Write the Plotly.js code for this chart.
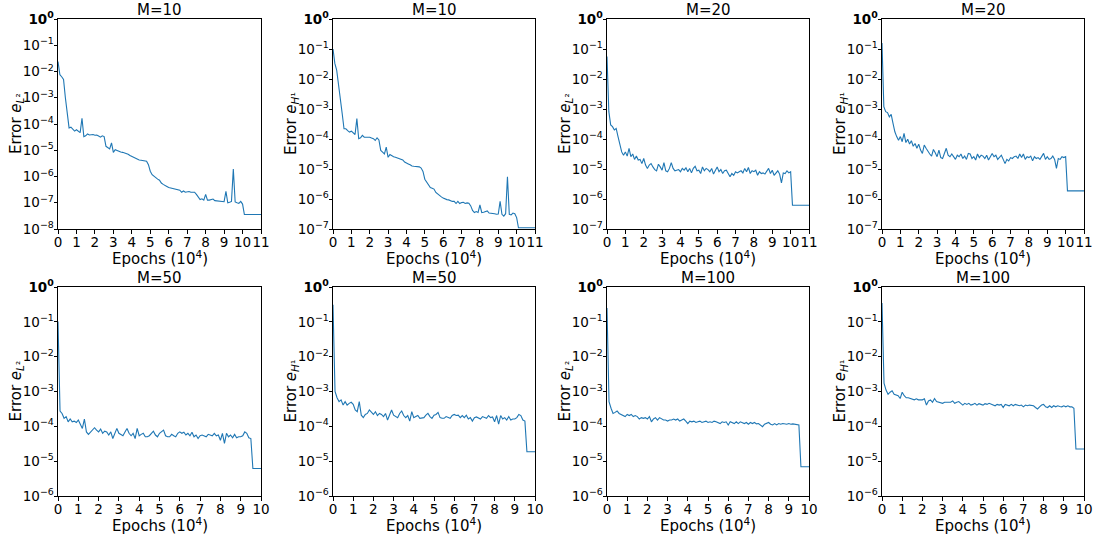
<!DOCTYPE html>
<html><head><meta charset="utf-8">
<script src="https://cdn.plot.ly/plotly-3.0.1.min.js"></script>
<style>html,body{margin:0;padding:0;background:#fff}#chart{width:1093px;height:535px}</style>
</head><body><div id="chart"></div>
<script>
// Epochs in units of 10^4
const epochsTop = [0,0.1,0.2,0.3,0.4,0.5,0.6,0.7,0.8,0.9,1,1.1,1.2,1.3,1.4,1.5,1.6,1.7,1.8,1.9,2,2.1,2.2,2.3,2.4,2.5,2.6,2.7,2.8,2.9,3,3.1,3.2,3.3,3.4,3.5,3.6,3.7,3.8,3.9,4,4.1,4.2,4.3,4.4,4.5,4.6,4.7,4.8,4.9,5,5.1,5.2,5.3,5.4,5.5,5.6,5.7,5.8,5.9,6,6.1,6.2,6.3,6.4,6.5,6.6,6.7,6.8,6.9,7,7.1,7.2,7.3,7.4,7.5,7.6,7.7,7.8,7.9,8,8.1,8.2,8.3,8.4,8.5,8.6,8.7,8.8,8.9,9,9.1,9.2,9.3,9.4,9.5,9.6,9.7,9.8,9.9,10,10.1,11];
const epochsBottom = [0,0.1,0.2,0.3,0.4,0.5,0.6,0.7,0.8,0.9,1,1.1,1.2,1.3,1.4,1.5,1.6,1.7,1.8,1.9,2,2.1,2.2,2.3,2.4,2.5,2.6,2.7,2.8,2.9,3,3.1,3.2,3.3,3.4,3.5,3.6,3.7,3.8,3.9,4,4.1,4.2,4.3,4.4,4.5,4.6,4.7,4.8,4.9,5,5.1,5.2,5.3,5.4,5.5,5.6,5.7,5.8,5.9,6,6.1,6.2,6.3,6.4,6.5,6.6,6.7,6.8,6.9,7,7.1,7.2,7.3,7.4,7.5,7.6,7.7,7.8,7.9,8,8.1,8.2,8.3,8.4,8.5,8.6,8.7,8.8,8.9,9,9.1,9.2,9.3,9.4,9.5,9.6,10];

// log10 of the error
const m10L2 = [-1.62,-2.12,-2.2,-2.3,-3.0,-3.6,-4.15,-4.12,-4.2,-4.27,
 -4.22,-4.27,-4.33,-3.78,-4.48,-4.45,-4.38,-4.42,-4.42,-4.40,
 -4.43,-4.42,-4.46,-4.5,-4.45,-4.48,-4.85,-4.9,-4.95,-4.72,
 -5.08,-4.98,-5.02,-5.05,-5.07,-5.08,-5.1,-5.12,-5.15,-5.2,
 -5.24,-5.27,-5.3,-5.34,-5.37,-5.38,-5.39,-5.4,-5.42,-5.55,
 -5.8,-5.93,-6.0,-6.07,-6.1,-6.14,-6.25,-6.3,-6.33,-6.38,
 -6.42,-6.44,-6.46,-6.47,-6.5,-6.52,-6.52,-6.6,-6.55,-6.6,
 -6.58,-6.57,-6.6,-6.59,-6.6,-6.68,-6.8,-6.88,-6.85,-6.9,
 -6.68,-6.9,-6.9,-6.88,-6.86,-6.92,-6.93,-6.94,-6.95,-6.97,
 -6.96,-6.57,-7.0,-6.98,-6.95,-5.72,-6.97,-7.0,-7.02,-6.95,
 -7.05,-7.45,-7.45];
const m10H1 = [-1.0,-1.48,-1.7,-2.26,-2.7,-3.15,-3.66,-3.66,-3.72,-3.77,
 -3.74,-3.79,-3.85,-3.32,-3.99,-3.96,-3.88,-3.94,-3.94,-3.96,
 -3.94,-3.97,-3.99,-4.05,-3.96,-4.03,-4.38,-4.44,-4.5,-4.27,
 -4.61,-4.52,-4.56,-4.59,-4.61,-4.63,-4.65,-4.68,-4.7,-4.77,
 -4.81,-4.83,-4.86,-4.9,-4.91,-4.92,-4.92,-4.93,-4.97,-5.08,
 -5.34,-5.45,-5.56,-5.62,-5.64,-5.67,-5.78,-5.84,-5.87,-5.93,
 -5.97,-6.0,-6.02,-6.03,-6.06,-6.08,-6.08,-6.15,-6.08,-6.15,
 -6.12,-6.11,-6.15,-6.13,-6.14,-6.23,-6.38,-6.45,-6.42,-6.45,
 -6.2,-6.45,-6.44,-6.42,-6.4,-6.47,-6.47,-6.49,-6.49,-6.51,
 -6.5,-6.08,-6.51,-6.57,-6.49,-5.26,-6.51,-6.53,-6.47,-6.49,
 -6.62,-6.96,-6.96];
const m20L2 = [-1.25,-3.09,-3.53,-3.59,-3.70,-3.65,-3.92,-4.15,-4.43,-4.54,
 -4.43,-4.57,-4.31,-4.59,-4.50,-4.68,-4.57,-4.70,-4.68,-4.82,
 -4.65,-4.87,-4.98,-4.87,-4.82,-4.93,-5.02,-5.06,-4.84,-4.93,
 -5.04,-4.79,-5.06,-5.09,-4.98,-4.79,-4.98,-5.06,-5.04,-5.02,
 -5.09,-4.98,-5.04,-4.96,-5.09,-4.98,-5.13,-4.98,-4.91,-5.06,
 -5.04,-5.15,-4.93,-5.06,-4.98,-5.02,-5.09,-4.98,-5.17,-5.04,
 -4.93,-5.09,-5.02,-5.15,-5.06,-5.04,-5.15,-5.26,-5.15,-5.21,
 -5.09,-5.13,-5.09,-5.06,-5.13,-4.98,-5.09,-4.95,-5.15,-5.06,
 -5.09,-5.04,-5.21,-5.09,-5.15,-5.13,-5.17,-5.09,-4.98,-5.15,
 -5.04,-5.21,-5.15,-5.06,-5.17,-5.46,-5.13,-5.15,-5.06,-5.13,
 -5.09,-6.21,-6.21];
const m20H1 = [-0.80,-2.92,-3.09,-3.12,-3.26,-3.18,-3.48,-3.76,-3.92,-4.04,
 -3.92,-4.09,-3.81,-4.12,-4.01,-4.17,-4.06,-4.24,-4.15,-4.31,
 -4.17,-4.37,-4.48,-4.20,-4.31,-4.43,-4.50,-4.57,-4.35,-4.46,
 -4.59,-4.37,-4.62,-4.65,-4.50,-4.31,-4.54,-4.59,-4.50,-4.59,
 -4.68,-4.54,-4.59,-4.50,-4.65,-4.57,-4.68,-4.48,-4.50,-4.65,
 -4.59,-4.70,-4.50,-4.62,-4.54,-4.57,-4.65,-4.54,-4.70,-4.59,
 -4.48,-4.59,-4.54,-4.68,-4.59,-4.54,-4.68,-4.82,-4.68,-4.73,
 -4.62,-4.65,-4.59,-4.57,-4.65,-4.50,-4.62,-4.50,-4.68,-4.59,
 -4.62,-4.57,-4.73,-4.59,-4.65,-4.62,-4.68,-4.59,-4.48,-4.68,
 -4.59,-4.68,-4.65,-4.57,-4.68,-4.98,-4.65,-4.68,-4.59,-4.62,
 -4.59,-5.73,-5.73];
const m50L2 = [-0.99,-3.56,-3.63,-3.77,-3.72,-3.87,-3.79,-3.87,-3.85,-3.89,
 -3.82,-3.94,-4.06,-3.79,-4.16,-4.23,-4.16,-4.11,-4.04,-4.11,
 -4.16,-4.08,-4.20,-4.14,-4.16,-4.25,-4.16,-4.35,-4.20,-4.06,
 -4.20,-4.23,-4.27,-4.16,-4.06,-4.20,-4.27,-4.20,-4.35,-4.06,
 -4.27,-4.23,-4.20,-4.30,-4.30,-4.27,-4.20,-4.14,-4.25,-4.30,
 -4.20,-4.16,-4.11,-4.27,-4.30,-4.30,-4.23,-4.27,-4.30,-4.20,
 -4.16,-4.20,-4.17,-4.25,-4.20,-4.27,-4.17,-4.30,-4.25,-4.35,
 -4.27,-4.25,-4.27,-4.30,-4.23,-4.25,-4.27,-4.20,-4.27,-4.25,
 -4.40,-4.20,-4.49,-4.20,-4.30,-4.25,-4.33,-4.23,-4.33,-4.30,
 -4.30,-4.27,-4.16,-4.20,-4.33,-4.35,-5.21,-5.21];
const m50H1 = [-0.51,-3.00,-3.18,-3.29,-3.24,-3.39,-3.29,-3.39,-3.34,-3.31,
 -3.37,-3.53,-3.58,-3.29,-3.68,-3.75,-3.66,-3.63,-3.53,-3.60,
 -3.66,-3.58,-3.69,-3.63,-3.66,-3.72,-3.63,-3.82,-3.68,-3.53,
 -3.68,-3.72,-3.75,-3.63,-3.56,-3.69,-3.75,-3.69,-3.85,-3.58,
 -3.75,-3.72,-3.69,-3.77,-3.77,-3.75,-3.68,-3.63,-3.72,-3.77,
 -3.68,-3.66,-3.60,-3.75,-3.77,-3.77,-3.72,-3.75,-3.77,-3.69,
 -3.66,-3.69,-3.68,-3.75,-3.69,-3.75,-3.68,-3.79,-3.75,-3.85,
 -3.75,-3.73,-3.77,-3.79,-3.72,-3.75,-3.77,-3.69,-3.75,-3.73,
 -3.87,-3.69,-3.94,-3.69,-3.79,-3.75,-3.82,-3.72,-3.82,-3.79,
 -3.79,-3.75,-3.66,-3.69,-3.82,-3.85,-4.73,-4.73];
const m100L2 = [-0.60,-3.29,-3.48,-3.63,-3.60,-3.56,-3.63,-3.66,-3.68,-3.72,
 -3.66,-3.69,-3.66,-3.72,-3.69,-3.72,-3.79,-3.75,-3.77,-3.75,
 -3.79,-3.72,-3.87,-3.79,-3.75,-3.82,-3.75,-3.79,-3.82,-3.82,
 -3.85,-3.82,-3.82,-3.79,-3.82,-3.79,-3.85,-3.82,-3.79,-3.85,
 -3.92,-3.85,-3.87,-3.85,-3.89,-3.87,-3.85,-3.89,-3.87,-3.85,
 -3.89,-3.87,-3.89,-3.85,-3.87,-3.89,-3.92,-3.87,-3.89,-3.87,
 -3.96,-3.87,-3.89,-3.92,-3.87,-3.92,-3.87,-3.89,-3.92,-3.89,
 -3.94,-3.89,-3.92,-3.89,-3.93,-3.92,-3.96,-4.01,-3.94,-3.92,
 -3.89,-3.94,-3.96,-3.92,-3.96,-3.92,-3.94,-3.92,-3.93,-3.94,
 -3.92,-3.94,-3.93,-3.94,-3.94,-3.96,-5.16,-5.16];
const m100H1 = [-0.46,-2.76,-2.96,-3.08,-3.02,-2.98,-3.08,-3.10,-3.12,-3.20,
 -3.02,-3.12,-3.18,-3.18,-3.20,-3.21,-3.24,-3.21,-3.24,-3.24,
 -3.24,-3.21,-3.39,-3.27,-3.24,-3.31,-3.20,-3.29,-3.31,-3.31,
 -3.34,-3.31,-3.31,-3.29,-3.31,-3.27,-3.34,-3.31,-3.29,-3.34,
 -3.39,-3.34,-3.37,-3.34,-3.39,-3.37,-3.34,-3.39,-3.35,-3.37,
 -3.39,-3.35,-3.37,-3.34,-3.37,-3.39,-3.41,-3.37,-3.39,-3.37,
 -3.46,-3.37,-3.39,-3.41,-3.37,-3.41,-3.37,-3.39,-3.41,-3.39,
 -3.44,-3.39,-3.41,-3.39,-3.41,-3.41,-3.46,-3.50,-3.44,-3.39,
 -3.37,-3.44,-3.46,-3.41,-3.46,-3.41,-3.44,-3.41,-3.43,-3.44,
 -3.41,-3.44,-3.41,-3.44,-3.44,-3.48,-4.65,-4.65];

const titles = ['M=10','M=10','M=20','M=20','M=50','M=50','M=100','M=100'];
const yLabelL2 = 'Error <i>e</i><sub><i>L</i>²</sub>';
const yLabelH1 = 'Error <i>e</i><sub><i>H</i>¹</sub>';
const xLabel = 'Epochs (10<sup>4</sup>)';
const yMinExp = [-8,-7,-7,-7,-6,-6,-6,-6];
const xMax = [11,11,11,11,10,10,10,10];

const series = [m10L2,m10H1,m20L2,m20H1,m50L2,m50H1,m100L2,m100H1];
const xs = [epochsTop,epochsTop,epochsTop,epochsTop,epochsBottom,epochsBottom,epochsBottom,epochsBottom];
const yLabels = [yLabelL2,yLabelH1,yLabelL2,yLabelH1,yLabelL2,yLabelH1,yLabelL2,yLabelH1];

const W = 1093, H = 535;
const colPx = [[58,261],[333,535],[607,809],[882,1084]];
const rowPx = [[19,229],[287,496]];

const FAM = 'DejaVu Sans, sans-serif';
const tickFont = {family:FAM, size:13.5, color:'#000'};
const labelFont = {family:FAM, size:15, color:'#000'};
const data = [];
const layout = {
  width:W, height:H, margin:{l:0,r:0,t:0,b:0},
  paper_bgcolor:'#fff', plot_bgcolor:'#fff', showlegend:false,
  font: tickFont, annotations: []
};

for (let i = 0; i < 8; i++) {
  const r = Math.floor(i/4), c = i % 4;
  const sfx = i === 0 ? '' : String(i+1);
  data.push({
    x: xs[i], y: series[i].map(v => Math.pow(10, v)),
    type:'scatter', mode:'lines', line:{color:'#1f77b4', width:1.1},
    xaxis:'x'+sfx, yaxis:'y'+sfx, hoverinfo:'skip'
  });
  const xd = [colPx[c][0]/W, colPx[c][1]/W];
  const yd = [1 - rowPx[r][1]/H, 1 - rowPx[r][0]/H];
  const tv = [], tt = [];
  for (let e = yMinExp[i]; e <= 0; e++) {
    tv.push(Math.pow(10, e));
    tt.push(e === 0 ? '<b>10<sup>0</sup></b>' : '10<sup>−' + (-e) + '</sup>');
  }
  const xtv = [];
  for (let k = 0; k <= xMax[i]; k++) xtv.push(k);
  layout['xaxis'+sfx] = {
    domain: xd, anchor:'y'+sfx, range:[0, xMax[i]],
    tickmode:'array', tickvals: xtv, ticktext: xtv.map(String), tickangle:0,
    ticks:'outside', ticklen:3.5, tickwidth:1, tickcolor:'#000', ticklabelstandoff:-3,
    showline:true, mirror:true, linecolor:'#000', linewidth:1,
    showgrid:false, zeroline:false, automargin:false, tickfont:tickFont
  };
  layout['yaxis'+sfx] = {
    domain: yd, anchor:'x'+sfx, type:'log', range:[yMinExp[i], 0],
    tickmode:'array', tickvals: tv, ticktext: tt,
    ticks:'outside', ticklen:3.5, tickwidth:1, tickcolor:'#000', ticklabelstandoff:-3,
    showline:true, mirror:true, linecolor:'#000', linewidth:1,
    showgrid:false, zeroline:false, automargin:false, tickfont:tickFont
  };
  // subplot title
  layout.annotations.push({
    text: titles[i], xref:'paper', yref:'paper',
    x:(xd[0]+xd[1])/2, y:yd[1], xanchor:'center', yanchor:'bottom',
    yshift:-2, showarrow:false, font:labelFont
  });
  // x-axis title
  layout.annotations.push({
    text: xLabel, xref:'paper', yref:'paper',
    x:(xd[0]+xd[1])/2, y:yd[0], xanchor:'center', yanchor:'middle',
    yshift:-29, showarrow:false, font:labelFont
  });
  // y-axis title
  layout.annotations.push({
    text: yLabels[i], xref:'paper', yref:'paper', textangle:-90,
    x:xd[0], y:(yd[0]+yd[1])/2, xanchor:'center', yanchor:'middle',
    xshift:-42, showarrow:false, font:labelFont
  });
}

Plotly.newPlot('chart', data, layout, {displayModeBar:false, staticPlot:true});
</script>
</body></html>
